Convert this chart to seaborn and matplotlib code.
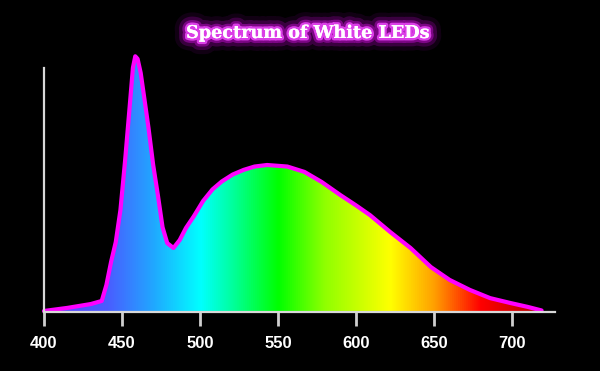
import matplotlib
matplotlib.use("Agg")
import matplotlib.pyplot as plt
import matplotlib.patheffects as pe
from matplotlib.colors import LinearSegmentedColormap
from matplotlib.patches import PathPatch
import numpy as np
import seaborn as sns

# ---- data ----
wavelength = [400, 415, 430, 437, 440, 443, 446, 449, 452, 455, 457, 458.5, 460,
              462, 464, 467, 470, 473, 476, 479, 483, 487, 491, 496, 502, 508,
              514, 521, 528, 535, 543, 556, 567, 578, 590, 600, 609, 622, 635,
              648, 660, 673, 686, 699, 710, 719]
intensity = [0.004, 0.016, 0.031, 0.043, 0.105, 0.195, 0.272, 0.397, 0.59, 0.805,
             0.95, 0.995, 0.985, 0.93, 0.845, 0.716, 0.572, 0.455, 0.33, 0.268,
             0.249, 0.28, 0.327, 0.372, 0.432, 0.477, 0.508, 0.535, 0.553, 0.566,
             0.572, 0.566, 0.545, 0.506, 0.455, 0.415, 0.377, 0.311, 0.249,
             0.175, 0.125, 0.086, 0.054, 0.035, 0.02, 0.006]
tick_values = [400, 450, 500, 550, 600, 650, 700]
title = "Spectrum of White LEDs"

# spectrum colour stops (wavelength -> colour)
stop_nm = [400, 440, 470, 500, 520, 550, 580, 622, 650, 680, 720]
stop_col = ["#6040ff", "#4a5cff", "#20a8ff", "#00ffff", "#00ffa0", "#00ff00",
            "#90ff00", "#ffff00", "#ffa000", "#ff0000", "#b00000"]

sns.set_style("dark", {"axes.facecolor": "black", "figure.facecolor": "black"})

fig = plt.figure(figsize=(6, 3.71), dpi=100, facecolor="black")
ax = fig.add_axes([44 / 600, 59 / 371, 511 / 600, 257 / 371])
ax.set_facecolor("black")
ax.grid(False)

# gradient fill clipped to the spectrum area
cmap = LinearSegmentedColormap.from_list(
    "spec", [((n - stop_nm[0]) / (stop_nm[-1] - stop_nm[0]), c) for n, c in zip(stop_nm, stop_col)])
grad = np.linspace(0, 1, 512).reshape(1, -1)
im = ax.imshow(grad, extent=[stop_nm[0], stop_nm[-1], 0, 1.0], aspect="auto",
               cmap=cmap, origin="lower", zorder=1, interpolation="bilinear")
poly = ax.fill_between(wavelength, intensity, 0, color="none", lw=0)
patch = PathPatch(poly.get_paths()[0], transform=ax.transData, facecolor="none", edgecolor="none")
ax.add_patch(patch)
im.set_clip_path(patch)

line = sns.lineplot(x=wavelength, y=intensity, ax=ax, color="#ff00ff", lw=3.0, zorder=3,
                    clip_on=False)
for ln in ax.get_lines():
    ln.set_solid_joinstyle("round")
    ln.set_solid_capstyle("round")

ax.set_xlim(400, 727.6)
ax.set_ylim(0, 1.0)
ax.set_xticks(tick_values)
ax.set_xticklabels([str(t) for t in tick_values], fontweight="bold",
                   family="Liberation Sans", fontsize=12, color="white")
ax.set_yticks([])
ax.tick_params(axis="x", bottom=True, colors="#cfcfcf", length=10, width=2, pad=7,
               labelcolor="white")
for s in ["top", "right"]:
    ax.spines[s].set_visible(False)
for s in ["left", "bottom"]:
    ax.spines[s].set_color("#d8d8d8")
    ax.spines[s].set_linewidth(1.6)
    ax.spines[s].set_zorder(4)
ax.spines["left"].set_bounds(0, 0.949)
ax.set_xlabel("")
ax.set_ylabel("")

fig.text(0.513, 1 - 33 / 371, title, ha="center", va="center", color="white",
         family="DejaVu Serif", fontweight="bold", fontsize=12.7,
         path_effects=[pe.withStroke(linewidth=18, foreground=(0.45, 0, 0.5, 0.15)),
                       pe.withStroke(linewidth=12, foreground=(0.6, 0, 0.65, 0.3)),
                       pe.withStroke(linewidth=7, foreground=(0.75, 0.05, 0.8, 0.5)),
                       pe.withStroke(linewidth=3.5, foreground=(0.95, 0.3, 1, 0.8)),
                       pe.Normal()])

fig.savefig("out.png", dpi=100, facecolor="black")
